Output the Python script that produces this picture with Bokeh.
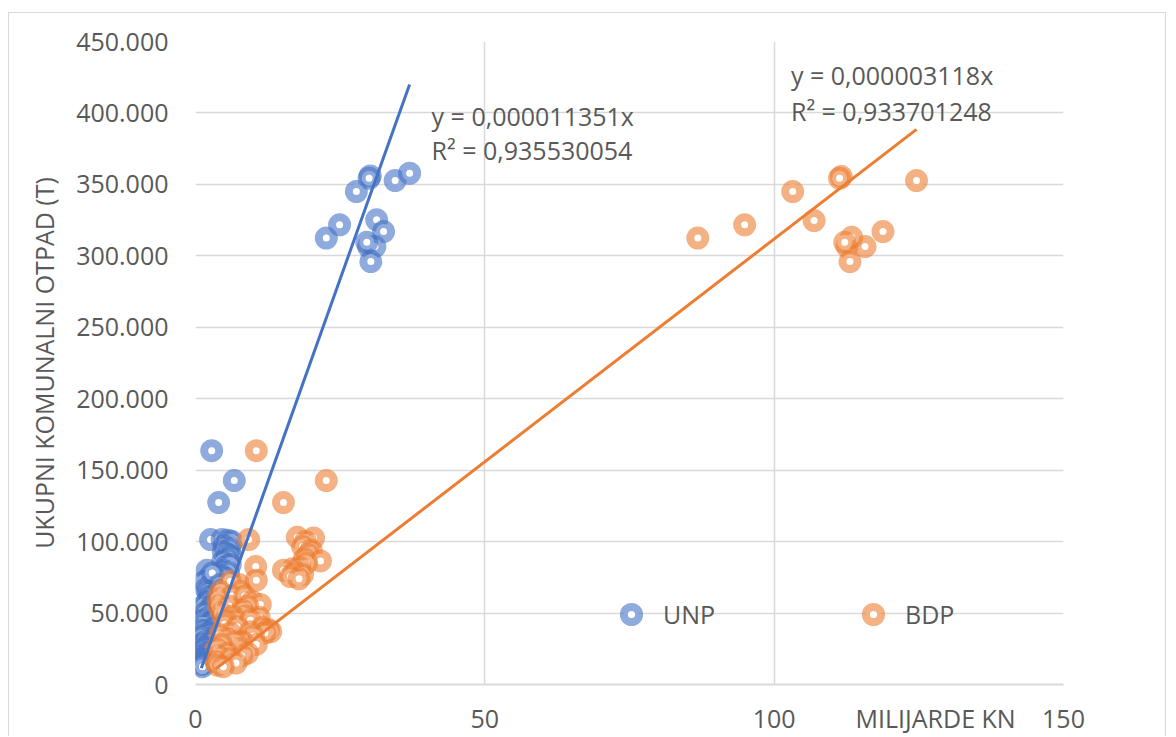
from bokeh.plotting import figure
from bokeh.models import (FixedTicker, CustomJSTickFormatter, Label, Legend, LegendItem,
                          ColumnDataSource)
from bokeh.embed import file_html
from bokeh.resources import INLINE

# ---------------- data (x in milijarde kn, y in tonnes) ----------------
unp_x = [30.2, 30.0, 27.8, 34.5, 37.0, 24.9, 22.6, 31.3, 32.5, 29.9, 31.0, 29.6, 30.3,
         2.8, 6.7, 4.0, 2.6,
         4.6, 5.6, 6.3, 5.0, 5.9, 4.8, 5.5, 6.1, 5.5, 4.7, 5.3, 6.0, 4.9, 5.7, 4.4, 5.1,
         2.0, 2.4, 1.5, 2.7, 1.8, 3.2, 2.2, 2.5, 3.1, 2.0, 3.5, 1.4, 2.8, 2.6, 3.0, 1.6,
         3.8, 2.2, 1.1, 3.0, 2.5, 1.3, 3.4, 1.9, 1.0, 2.4, 1.2, 3.6, 1.0, 1.5, 2.8, 1.1,
         1.7, 1.2, 1.3, 2.1, 1.0, 1.2, 1.1, 1.3, 1.4, 1.1, 1.2, 2.9, 4.2, 3.9, 4.5]
unp_y = [355900, 354300, 345000, 352700, 357800, 321700, 312400, 325200, 317000, 306500, 306500, 309500, 296000,
         163600, 142700, 127300, 101400,
         101500, 101000, 100000, 97000, 95000, 93000, 91500, 90000, 88000, 86000, 83000, 84000, 80000, 78500, 76500, 74500,
         80000, 75000, 72000, 70000, 67000, 66000, 65000, 62000, 62000, 58000, 58000, 55000, 55000, 53000, 51000, 50000,
         48000, 47000, 45000, 45000, 43000, 42000, 40000, 38000, 38000, 36000, 35000, 34000, 33000, 30000, 30000, 28000,
         26000, 25000, 23000, 22000, 20000, 18000, 17500, 16000, 15000, 14000, 12500, 78000, 70000, 60000, 66000]

bdp_x = [111.6, 111.3, 103.2, 124.6, 94.9, 86.8, 106.9, 118.8, 112.6, 115.7, 113.4, 112.2, 113.1,
         10.5, 22.6, 15.2, 9.2,
         17.6, 20.4, 19.0, 18.5, 20.0, 19.5, 18.8, 21.6, 19.2, 18.0, 16.8, 15.2, 17.0, 18.5, 16.4, 17.9,
         10.4, 7.5, 10.5, 6.0, 7.8, 4.3, 6.3, 8.5, 3.9, 9.8, 11.2, 4.0, 5.8, 9.0, 8.1, 4.5,
         6.5, 8.8, 11.0, 7.0, 9.5, 5.2, 5.0, 7.2, 11.5, 12.6, 9.5, 13.0, 6.0, 12.0, 4.2, 10.0,
         5.5, 8.1, 6.8, 4.5, 10.5, 7.5, 3.6, 5.5, 9.0, 4.0, 8.0, 6.0, 3.5, 7.0, 3.8, 4.8]
bdp_y = [355500, 354300, 345000, 352700, 321700, 312400, 324700, 317000, 306500, 306500, 313000, 309500, 296000,
         163600, 142700, 127300, 101400,
         103000, 102500, 100000, 96500, 94000, 91000, 88000, 86500, 85000, 82000, 81000, 80000, 78000, 77000, 75500, 74000,
         82500, 70000, 73000, 72000, 65000, 65000, 62000, 62000, 60000, 58000, 56000, 55000, 55000, 55000, 52000, 50000,
         48000, 48000, 47000, 45000, 45000, 45000, 42000, 40500, 40000, 38500, 37000, 37000, 36000, 36000, 35000, 34000,
         32000, 30000, 30000, 28000, 28000, 25000, 25000, 22000, 22000, 20000, 20000, 18000, 16000, 15000, 13500, 12500]

series_names = ["UNP", "BDP"]
x_ticks = [0, 50, 100, 150]
y_ticks = [0, 50000, 100000, 150000, 200000, 250000, 300000, 350000, 400000, 450000]

# trendline coefficients (per kn), as printed on the chart
unp_coef = 0.000011351
bdp_coef = 0.000003118
unp_eq = "y = 0,000011351x"
unp_r2 = "R² = 0,935530054"
bdp_eq = "y = 0,000003118x"
bdp_r2 = "R² = 0,933701248"

x_title = "MILIJARDE KN"
y_title = "UKUPNI KOMUNALNI OTPAD (T)"

# ---------------- styling ----------------
BLUE = "#4472C4"
ORANGE = "#ED7D31"
TXT = "#595959"
GRID = "#d9d9d9"
FONT = "Open Sans"
FS = "25px"
X_TITLE_POS = 127.9   # where the x title sits along the bottom axis (Excel places it right)

p = figure(width=1158, height=724, output_backend="svg", toolbar_location=None,
           x_range=(0, 150), y_range=(0, 450000),
           min_border_left=186, min_border_right=104, min_border_top=28, min_border_bottom=52)
p.styles = {"border-top": "1px solid #d9d9d9", "border-left": "1px solid #d9d9d9",
            "border-right": "1px solid #d9d9d9", "margin-left": "8px", "margin-top": "12px"}
p.outline_line_color = None
p.background_fill_color = "white"
p.border_fill_color = "white"

p.xaxis.ticker = FixedTicker(ticks=x_ticks + [X_TITLE_POS])
p.yaxis.ticker = FixedTicker(ticks=y_ticks)
p.xgrid.ticker = FixedTicker(ticks=x_ticks)
p.ygrid.ticker = FixedTicker(ticks=y_ticks)
p.grid.grid_line_color = GRID
p.grid.grid_line_width = 1.5

p.yaxis.formatter = CustomJSTickFormatter(
    code="return tick == 0 ? '0' : (tick/1000).toFixed(0) + '.000';")
p.xaxis.formatter = CustomJSTickFormatter(
    args=dict(pos=X_TITLE_POS, title=x_title),
    code="return Math.abs(tick - pos) < 1e-6 ? title : tick.toFixed(0);")

for ax in (p.xaxis[0], p.yaxis[0]):
    ax.major_tick_line_color = None
    ax.minor_tick_line_color = None
    ax.major_label_text_font = FONT
    ax.major_label_text_font_size = FS
    ax.major_label_text_color = TXT
p.yaxis.axis_line_color = None
p.xaxis.axis_line_color = GRID
p.xaxis.axis_line_width = 2
p.yaxis.major_label_standoff = 21
p.xaxis.major_label_standoff = 10

p.yaxis.axis_label = y_title
p.yaxis.axis_label_text_font = FONT
p.yaxis.axis_label_text_font_size = FS
p.yaxis.axis_label_text_font_style = "normal"
p.yaxis.axis_label_text_color = TXT
p.yaxis.axis_label_standoff = 12

src_u = ColumnDataSource(dict(x=unp_x, y=unp_y))
src_b = ColumnDataSource(dict(x=bdp_x, y=bdp_y))

r_u = p.scatter("x", "y", source=src_u, marker="circle", size=15, line_width=8,
                line_color=BLUE, line_alpha=0.6, fill_color="white", fill_alpha=1.0)
r_b = p.scatter("x", "y", source=src_b, marker="circle", size=15, line_width=8,
                line_color=ORANGE, line_alpha=0.6, fill_color="white", fill_alpha=1.0)

# linear trendlines through the origin, drawn over the data range
ux = [min(unp_x), max(unp_x)]
bx = [min(bdp_x), max(bdp_x)]
p.line(ux, [unp_coef * 1e9 * v for v in ux], line_color=BLUE, line_width=3)
p.line(bx, [bdp_coef * 1e9 * v for v in bx], line_color=ORANGE, line_width=3)

def lab(x, y, t, **kw):
    p.add_layout(Label(x=x, y=y, text=t, text_font=FONT, text_font_size=FS,
                       text_color=TXT, text_baseline="middle", **kw))

lab(40.8, 397900, unp_eq)
lab(40.8, 374100, unp_r2)
lab(102.9, 426600, bdp_eq)
lab(102.9, 401400, bdp_r2)

for r, name, loc in ((r_u, series_names[0], (417, 51)), (r_b, series_names[1], (659, 51))):
    lg = Legend(items=[LegendItem(label=name, renderers=[r])], location=loc,
                glyph_width=38, glyph_height=38, padding=0, margin=0, spacing=0,
                label_standoff=13, border_line_color=None, background_fill_alpha=0,
                label_text_font=FONT, label_text_font_size=FS, label_text_color=TXT)
    p.add_layout(lg)

open("out.html", "w").write(file_html(p, INLINE))
